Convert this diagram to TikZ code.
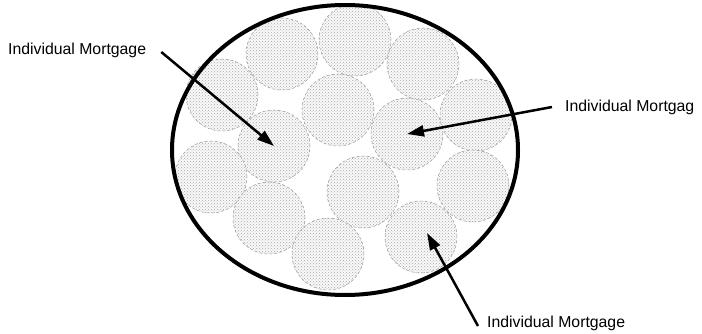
\documentclass[tikz,border=0pt]{standalone}
\usepackage{fontspec}
\setmainfont{Liberation Sans}
\usetikzlibrary{arrows.meta,patterns,shapes.geometric}
\definecolor{dotcol}{RGB}{110,110,110}

\begin{document}
\begin{tikzpicture}[x=1pt, y=-1pt, font=\fontsize{15.8}{18}\selectfont,
  loan/.style={circle, minimum size=72pt, inner sep=0pt, draw=gray!80, densely dashed, line width=0.5pt,
               fill=gray!5, postaction={pattern=crosshatch dots, pattern color=dotcol!60}},
  pointer/.style={-{Triangle[length=17pt,width=11pt]}, line width=2.5pt},
  caption/.style={anchor=west, inner sep=0pt}]
\useasboundingbox (0,0) rectangle (702,334);

% the mortgages in the pool
\node[loan] (m1) at (355,40) {};
\node[loan] (m2) at (282,54) {};
\node[loan] (m3) at (423,64) {};
\node[loan] (m4) at (222,95) {};
\node[loan] (m5) at (338,110) {};
\node[loan] (m6) at (407,134) {};
\node[loan] (m7) at (476,115) {};
\node[loan] (m8) at (274,146) {};
\node[loan] (m9) at (211,177) {};
\node[loan] (m10) at (363,192) {};
\node[loan] (m11) at (473,186) {};
\node[loan] (m12) at (269,218) {};
\node[loan] (m13) at (328,254) {};
\node[loan] (m14) at (421,237) {};

% the pool itself
\node[ellipse, draw, line width=4pt, minimum width=346pt, minimum height=290pt] (pool) at (345,150) {};

% labels
\node[caption] (lblA) at (8,50) {Individual Mortgage};
\node[caption] (lblB) at (565,107) {Individual Mortgag};
\node[caption] (lblC) at (487,323) {Individual Mortgage};

\draw[pointer] ([xshift=15pt,yshift=-2pt]lblA.east) -- (m8.center);
\draw[pointer] ([xshift=-13pt]lblB.west) -- (m6.center);
\draw[pointer] ([xshift=-9pt,yshift=-3pt]lblC.west) -- ([xshift=6pt,yshift=4pt]m14.center);
\end{tikzpicture}
\end{document}
